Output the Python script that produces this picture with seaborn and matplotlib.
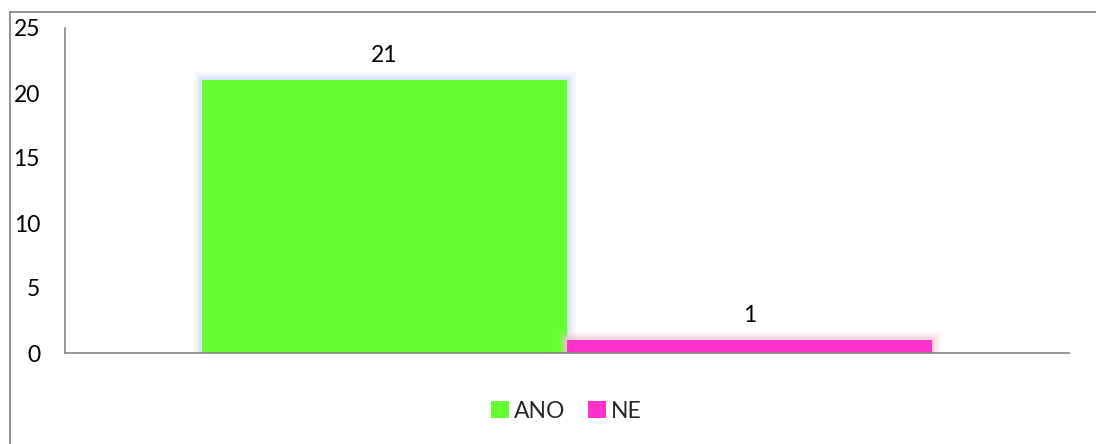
import matplotlib
matplotlib.use("Agg")
import matplotlib.pyplot as plt
import matplotlib.patheffects as pe
from matplotlib.lines import Line2D
import pandas as pd
import seaborn as sns

# Survey answers
answers = ["ANO", "NE"]
counts = [21, 1]
bar_colors = ["#66FF33", "#FF33CC"]
glow_colors = ["#c9d6f5", "#f7c6cf"]
y_ticks = [0, 5, 10, 15, 20, 25]

sns.set_theme(style="white")
plt.rcParams["font.family"] = ["Lato", "DejaVu Sans"]
FS = 16.5

df = pd.DataFrame({"group": [""] * len(answers), "answer": answers, "count": counts})

fig = plt.figure(figsize=(10.96, 4.44), dpi=100)
ax = fig.add_axes([65 / 1096, 1 - 353 / 444, (1069 - 65) / 1096, (353 - 28) / 444])

sns.barplot(data=df, x="group", y="count", hue="answer", palette=bar_colors,
            width=0.728, ax=ax, saturation=1, linewidth=0, legend=True)

# soft halo around each bar
for patch, glow in zip(ax.patches, glow_colors):
    patch.set_path_effects([
        pe.withStroke(linewidth=12, foreground=glow, alpha=0.18),
        pe.withStroke(linewidth=8, foreground=glow, alpha=0.3),
        pe.withStroke(linewidth=4, foreground=glow, alpha=0.5),
        pe.Normal(),
    ])

for cont in ax.containers:
    ax.bar_label(cont, fmt="%d", padding=10, fontsize=FS, color="black")

ax.set_xlim(-0.5, 0.5)
ax.set_ylim(0, 25)
ax.set_yticks(y_ticks)
ax.set_yticklabels([str(t) for t in y_ticks], fontsize=FS)
ax.tick_params(axis="y", length=0, pad=18, colors="black")
ax.tick_params(axis="x", length=0)
ax.set_xticklabels([])
ax.set_xlabel("")
ax.set_ylabel("")

for side in ["top", "right"]:
    ax.spines[side].set_visible(False)
for side in ["left", "bottom"]:
    ax.spines[side].set_color("#868686")
    ax.spines[side].set_linewidth(1.2)

leg = ax.legend(loc="center", bbox_to_anchor=(566 / 1096, 1 - 411 / 444), bbox_transform=fig.transFigure,
                ncol=2, frameon=False, fontsize=FS, handlelength=0.8, handleheight=0.8,
                handletextpad=0.2, columnspacing=1.0)
for h in leg.legend_handles:
    h.set_path_effects([])

# outer chart frame
frame_x = 9.5 / 1096
frame_y = 1 - 12.5 / 444
fig.add_artist(Line2D([frame_x, frame_x], [0, frame_y], transform=fig.transFigure,
                      color="#808080", lw=1.2))
fig.add_artist(Line2D([frame_x, 1], [frame_y, frame_y], transform=fig.transFigure,
                      color="#808080", lw=1.2))

fig.savefig("out.png", dpi=100)
